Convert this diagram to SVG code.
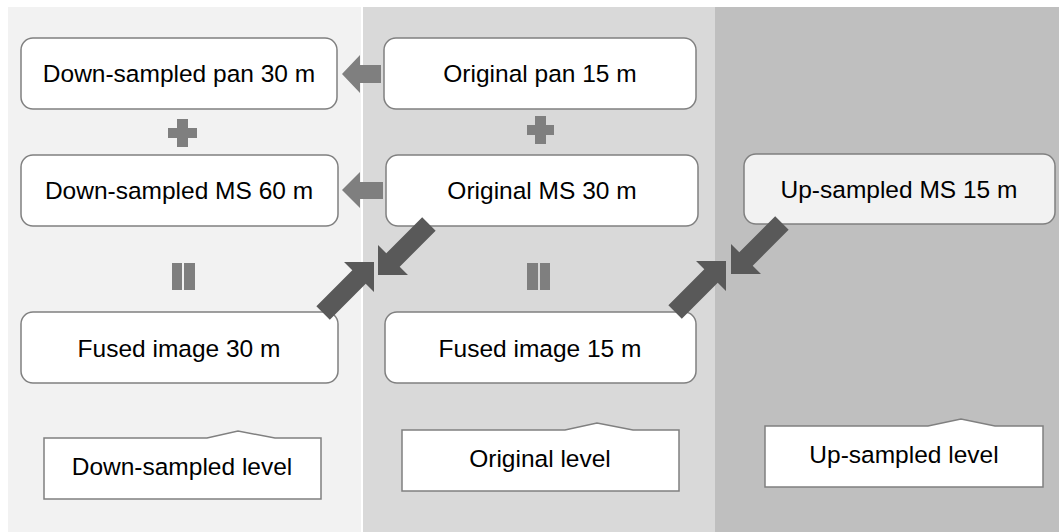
<svg xmlns="http://www.w3.org/2000/svg" width="1059" height="532" viewBox="0 0 1059 532">
<defs>
<style>
.node rect{fill:#ffffff;stroke:#808080;stroke-width:1.5}
.node.light rect{fill:#f2f2f2}
.lvl path{fill:#ffffff;stroke:#808080;stroke-width:1.5}
text{font-family:"Liberation Sans",Arial,sans-serif;font-size:24.5px;fill:#000;text-anchor:middle}
.op{fill:#7f7f7f}
.diag{fill:#595959}
.side{fill:#7f7f7f}
</style>
<path id="darr" d="M0,0 L-21.2,-21.2 L-21.2,-9.5 L-72,-9.5 L-72,9.5 L-21.2,9.5 L-21.2,21.2 Z"/>
</defs>
<rect x="0" y="0" width="1059" height="532" fill="#ffffff"/>
<g id="panels">
<rect x="8" y="7" width="353" height="525" fill="#f2f2f2"/>
<rect x="363" y="7" width="352" height="525" fill="#d9d9d9"/>
<rect x="715" y="7" width="344" height="525" fill="#bfbfbf"/>
</g>
<g id="operators">
<path class="op" d="M177,119 H188 V128 H197 V138 H188 V147 H177 V138 H168 V128 H177 Z"/>
<path class="op" d="M535,116 H546 V125 H554 V135 H546 V144 H535 V135 H527 V125 H535 Z"/>
<rect class="op" x="172" y="263" width="10" height="27"/>
<rect class="op" x="184" y="263" width="11" height="27"/>
<rect class="op" x="527" y="263" width="11" height="27"/>
<rect class="op" x="540" y="263" width="10" height="27"/>
</g>
<g id="n_dpan" class="node"><rect x="21" y="38" width="316" height="71" rx="12"/><text x="179" y="82">Down-sampled pan 30 m</text></g>
<g id="n_dms" class="node"><rect x="21" y="155" width="317" height="71" rx="12"/><text x="179" y="199">Down-sampled MS 60 m</text></g>
<g id="n_fused30" class="node"><rect x="21" y="312" width="317" height="71" rx="12"/><text x="179" y="357">Fused image 30 m</text></g>
<g id="n_opan" class="node"><rect x="384" y="38" width="312" height="71" rx="12"/><text x="540" y="82">Original pan 15 m</text></g>
<g id="n_oms" class="node"><rect x="386" y="155" width="312" height="71" rx="12"/><text x="542" y="199">Original MS 30 m</text></g>
<g id="n_fused15" class="node"><rect x="385" y="312" width="311" height="71" rx="12"/><text x="540" y="357">Fused image 15 m</text></g>
<g id="n_ums" class="node light"><rect x="744" y="154" width="311" height="70" rx="12"/><text x="899" y="198">Up-sampled MS 15 m</text></g>
<g id="l_down" class="lvl"><path d="M44,438 H207 L238,431 L275,438 H321 V499 H44 Z"/><text x="182" y="475">Down-sampled level</text></g>
<g id="l_orig" class="lvl"><path d="M402,430 H565 L597,423 L633,430 H679 V491 H402 Z"/><text x="540" y="467">Original level</text></g>
<g id="l_up" class="lvl"><path d="M765,426 H928 L961,419 L995,426 H1043 V487 H765 Z"/><text x="904" y="463">Up-sampled level</text></g>
<g id="connectors">
<path class="side" d="M342,74 L360,55 V65 H381 V83 H360 V93 Z"/>
<path class="side" d="M342,190 L360,172 V182 H383 V199 H360 V208 Z"/>
<use href="#darr" class="diag" transform="translate(378,275) rotate(135)"/>
<use href="#darr" class="diag" transform="translate(374,262) rotate(-45)"/>
<use href="#darr" class="diag" transform="translate(731,274) rotate(135)"/>
<use href="#darr" class="diag" transform="translate(726,261) rotate(-45)"/>
</g>
</svg>
